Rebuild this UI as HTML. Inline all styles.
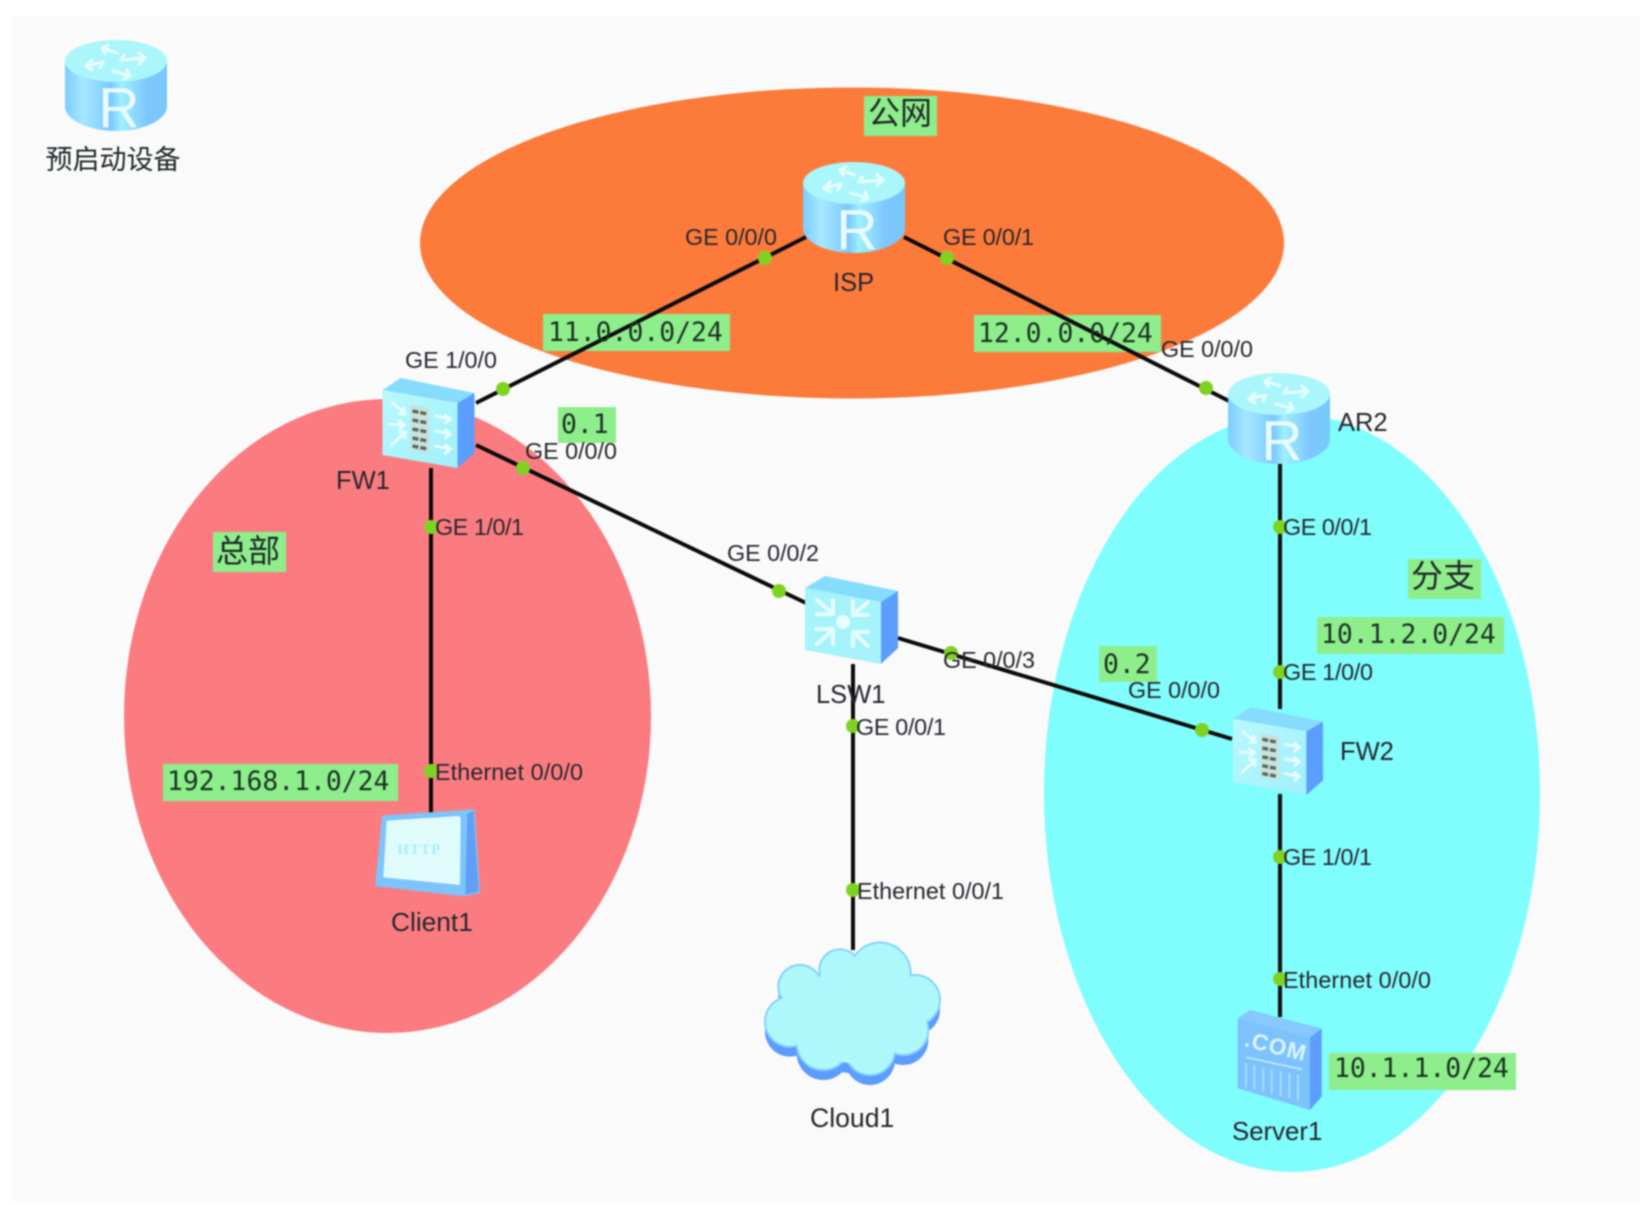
<!DOCTYPE html>
<html lang="zh"><head><meta charset="utf-8"><title>Network topology</title>
<style>
html,body{margin:0;padding:0;background:#fff;width:1647px;height:1205px;overflow:hidden}
svg{display:block;filter:blur(.7px)}
.l{font:23.3px "Liberation Sans",sans-serif;fill:#26262e}
.n{font:25.5px "Liberation Sans",sans-serif;fill:#26262e}
.m{font:26.4px "DejaVu Sans Mono","Liberation Mono",monospace;fill:#1c3324}
.c{font:27px "Liberation Sans","Noto Sans CJK SC",sans-serif;fill:#20282a;text-anchor:middle}
.b{font-size:32px}
.g{fill:#8eee8c}
.ln{stroke:#0b0b0b;stroke-width:4;fill:none}
.d{fill:#7ed321}
</style></head><body>
<svg width="1647" height="1205" viewBox="0 0 1647 1205" xmlns="http://www.w3.org/2000/svg">
<defs>
<linearGradient id="rs" x1="0" x2="1" y1="0" y2="0">
<stop offset="0" stop-color="#7cccff"/><stop offset=".18" stop-color="#a6e8ff"/><stop offset=".45" stop-color="#7dc8ff"/><stop offset=".55" stop-color="#9ef0fc"/><stop offset=".8" stop-color="#7fc6ff"/><stop offset="1" stop-color="#77c8fb"/>
</linearGradient>
<linearGradient id="ff" x1="0" x2="1" y1="0" y2="1">
<stop offset="0" stop-color="#b8f8fd"/><stop offset="1" stop-color="#a0f0fc"/>
</linearGradient>
<symbol id="router" viewBox="0 0 102 91" overflow="visible">
<path d="M0 21V66A51 25 0 0 0 102 66V21Z" fill="url(#rs)"/>
<ellipse cx="51" cy="21" rx="51" ry="21" fill="#aaf6fb"/>
<g fill="none" stroke="#e6fdff" stroke-width="3.2" stroke-linecap="round" stroke-linejoin="round">
<path d="M37 8L52 13M37 8l6-3M37 8l3 5"/>
<path d="M21 26L38 22M21 26l6-6M21 26l6 4M38 22l-3 6"/>
<path d="M48 31L65 36M65 36l-6 3M65 36l-3-6"/>
<path d="M56 20L80 18M80 18l-6-5M80 18l-6 6M56 20l3-5"/>
</g>
<text x="54" y="87" text-anchor="middle" font-family="Liberation Sans,sans-serif" font-size="57" fill="#e9fbff">R</text>
</symbol>
<symbol id="fw" viewBox="0 0 92 90" overflow="visible">
<path d="M0 12L18 0 92 15 75 25Z" fill="#86dcfd"/>
<path d="M0 12L75 25V90L0 77Z" fill="url(#ff)"/>
<path d="M75 25L92 15V75L75 90Z" fill="#5c9eff"/>
<path d="M28 27l19 3v45l-19-3Z" fill="#c8e2dc"/>
<g stroke="#59685e" stroke-width="3.4" stroke-dasharray="6 2" fill="none"><path d="M30 33l15 3M30 42l15 3M30 51l15 3M30 60l15 3M30 68l15 3"/></g>
<g fill="none" stroke="#e8fdff" stroke-width="2.8" stroke-linecap="round" stroke-linejoin="round"><path d="M10 25l13 11M23 36l-6 0M23 36l-2-6M7 46l15 1M22 47l-5-4M22 47l-5 4M9 67l14-13M23 54l-6 0M23 54l-1 6M53 38l15 3M68 41l-5-4M68 41l-5 4M53 53l15 3M68 56l-5-4M68 56l-5 4M53 68l15 3M68 71l-5-4M68 71l-5 4"/></g>
</symbol>
<symbol id="sw" viewBox="0 0 93 88" overflow="visible">
<path d="M0 12L20 0 93 15 76 26Z" fill="#86dcfd"/>
<path d="M0 12L76 26V88L0 74Z" fill="#a6f3fb"/>
<path d="M76 26L93 15V72L76 88Z" fill="#5c9eff"/>
<circle cx="38" cy="46" r="7" fill="#e8fdff"/>
<g fill="none" stroke="#e4fcff" stroke-width="4" stroke-linecap="round" stroke-linejoin="round">
<path d="M12 24L28 38M12 38H28V24"/><path d="M63 26L48 39M48 25V39H63"/>
<path d="M12 68L28 54M11 53H28V68"/><path d="M63 70L48 56M48 70V56H63"/>
</g>
</symbol>
</defs>

<rect x="12" y="16" width="1628" height="1185" fill="#fafafa"/>

<ellipse cx="852" cy="243" rx="432" ry="155.5" fill="#fc7b3b"/>
<ellipse cx="387.5" cy="716" rx="263.5" ry="317" fill="#fb7c80"/>
<ellipse cx="1292" cy="793" rx="248" ry="379" fill="#80fdfd"/>

<rect class="g" x="864" y="96" width="73" height="40"/>
<rect class="g" x="543" y="314" width="187" height="37"/>
<rect class="g" x="974" y="315" width="187" height="37"/>
<rect class="g" x="558" y="407" width="58" height="36"/>
<rect class="g" x="213" y="532" width="73" height="40"/>
<rect class="g" x="1408" y="559" width="73" height="40"/>
<rect class="g" x="1317" y="617" width="187" height="37"/>
<rect class="g" x="1099" y="646" width="58" height="36"/>
<rect class="g" x="163" y="764" width="235" height="37"/>
<rect class="g" x="1329" y="1053" width="187" height="37"/>

<path class="ln" d="M806 237L476 403M904 237L1229 401M476 445L806 603M898 638L1232 739M431 468V814M853 664V950M1280 462V709M1280 794V1017"/>

<g class="d">
<circle cx="765" cy="258" r="7"/><circle cx="503" cy="389" r="7"/>
<circle cx="947" cy="258" r="7"/><circle cx="1206" cy="388" r="7"/>
<circle cx="523" cy="468" r="7"/><circle cx="779" cy="591" r="7"/>
<circle cx="951" cy="653" r="7"/><circle cx="1202" cy="730" r="7"/>
<circle cx="431" cy="527" r="7"/><circle cx="431" cy="771" r="7"/>
<circle cx="853" cy="726" r="7"/><circle cx="853" cy="890" r="7"/>
<circle cx="1280" cy="527" r="7"/><circle cx="1280" cy="672" r="7"/>
<circle cx="1280" cy="857" r="7"/><circle cx="1280" cy="979" r="7"/>
</g>

<use href="#router" x="65" y="40" width="102" height="91"/>
<use href="#router" x="803" y="162" width="102" height="91"/>
<use href="#router" x="1228" y="373" width="102" height="91"/>
<use href="#fw" x="382" y="378" width="93" height="90"/>
<use href="#fw" x="1231" y="707" width="94" height="88"/>
<use href="#sw" x="805" y="576" width="93" height="88"/>

<!-- client -->
<g transform="translate(360 790) scale(.3333)">
<path d="M70 80L340 62 356 305 314 315 50 285Z" fill="#7cc4fb" stroke="#7cc4fb" stroke-width="8" stroke-linejoin="round"/>
<path d="M340 62L356 305 316 314 322 72Z" fill="#5f9ff5"/>
<path d="M80 92L295 78Q302 78 302 90L300 285 70 262Z" fill="#e0fbfb"/>
<text x="112" y="192" font-family="Liberation Serif,serif" font-weight="bold" font-size="44" letter-spacing="3" fill="#a8eefc">HTTP</text>
</g>

<!-- cloud -->
<g transform="translate(740 930) scale(.3333)">
<g fill="#5c9cff" transform="translate(0 30)">
<circle cx="150" cy="275" r="75"/><circle cx="180" cy="170" r="65"/><circle cx="300" cy="120" r="62"/><circle cx="420" cy="130" r="92"/><circle cx="525" cy="210" r="75"/><circle cx="490" cy="300" r="75"/><circle cx="250" cy="340" r="80"/><circle cx="390" cy="360" r="75"/><circle cx="340" cy="250" r="150"/>
</g>
<g fill="#a9f6fc" stroke="#86d0fd" stroke-width="6">
<circle cx="150" cy="275" r="75"/><circle cx="180" cy="170" r="65"/><circle cx="300" cy="120" r="62"/><circle cx="420" cy="130" r="92"/><circle cx="525" cy="210" r="75"/><circle cx="490" cy="300" r="75"/><circle cx="250" cy="340" r="80"/><circle cx="390" cy="360" r="75"/>
</g>
<g fill="#aef8fc">
<circle cx="150" cy="275" r="72"/><circle cx="180" cy="170" r="62"/><circle cx="300" cy="120" r="59"/><circle cx="420" cy="130" r="89"/><circle cx="525" cy="210" r="72"/><circle cx="490" cy="300" r="72"/><circle cx="250" cy="340" r="77"/><circle cx="390" cy="360" r="72"/><circle cx="340" cy="250" r="150"/>
</g>
</g>

<!-- server -->
<g transform="translate(1210 1000) scale(.3333)">
<path d="M83 55L120 30 335 85 300 112Z" fill="#86c8ff"/>
<path d="M83 55L300 112V330L83 265Z" fill="#7dc2fd"/>
<path d="M300 112L335 85V290L300 330Z" fill="#5c9eff"/>
<text transform="translate(100 138) rotate(14)" font-family="Liberation Sans,sans-serif" font-weight="bold" font-size="68" letter-spacing="3" fill="#d8f6fd">.COM</text>
<path d="M110 172L275 208" stroke="#c0ecfd" stroke-width="5"/>
<g stroke="#a4dcfd" stroke-width="6"><path d="M108 190V262M133 195V268M160 202V275M185 207V282M212 213V288M238 219V294M264 225V300"/></g>
</g>

<text class="c" x="113" y="169">预启动设备</text>
<text class="c b" x="900" y="124">公网</text>
<text class="c b" x="248" y="562">总部</text>
<text class="c b" x="1443" y="587">分支</text>

<text class="m" x="548" y="341">11.0.0.0/24</text>
<text class="m" x="978" y="342">12.0.0.0/24</text>
<text class="m" x="561" y="433">0.1</text>
<text class="m" x="1321" y="643">10.1.2.0/24</text>
<text class="m" x="1103" y="673">0.2</text>
<text class="m" x="167" y="790">192.168.1.0/24</text>
<text class="m" x="1334" y="1077">10.1.1.0/24</text>

<g class="l">
<text x="685" y="245">GE 0/0/0</text>
<text x="943" y="245" textLength="91">GE 0/0/1</text>
<text x="1161" y="357">GE 0/0/0</text>
<text x="405" y="368">GE 1/0/0</text>
<text x="525" y="459">GE 0/0/0</text>
<text x="435" y="535" textLength="89">GE 1/0/1</text>
<text x="1283" y="535" textLength="89">GE 0/0/1</text>
<text x="727" y="561">GE 0/0/2</text>
<text x="943" y="668">GE 0/0/3</text>
<text x="1283" y="680" textLength="90">GE 1/0/0</text>
<text x="1128" y="698">GE 0/0/0</text>
<text x="856" y="735" textLength="90">GE 0/0/1</text>
<text x="435" y="780" textLength="148">Ethernet 0/0/0</text>
<text x="1283" y="865" textLength="89">GE 1/0/1</text>
<text x="857" y="899" textLength="147">Ethernet 0/0/1</text>
<text x="1283" y="988" textLength="148">Ethernet 0/0/0</text>
</g>
<g class="n">
<text x="833" y="291">ISP</text>
<text x="1338" y="431">AR2</text>
<text x="336" y="489">FW1</text>
<text x="816" y="703">LSW1</text>
<text x="1340" y="760">FW2</text>
<text x="391" y="931" style="font-size:26.3px">Client1</text>
<text x="810" y="1127" style="font-size:26.6px">Cloud1</text>
<text x="1232" y="1140" style="font-size:25.8px">Server1</text>
</g>
</svg>
</body></html>
